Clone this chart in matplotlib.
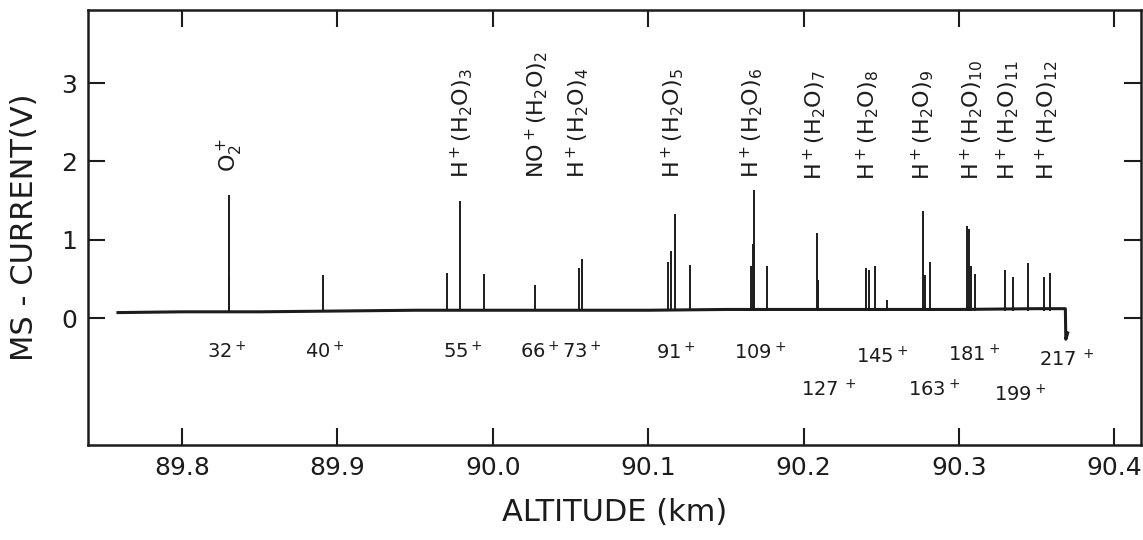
import matplotlib
matplotlib.use("Agg")
import matplotlib.pyplot as plt
import numpy as np

# Trazo de la línea base (altitud km, corriente V)
base_alt = [89.7588, 89.80, 89.85, 89.90, 89.95, 90.00, 90.05, 90.10,
            90.15, 90.20, 90.25, 90.30, 90.35, 90.3685, 90.3688, 90.3700]
base_v = [0.07, 0.08, 0.08, 0.09, 0.10, 0.10, 0.10, 0.10,
          0.11, 0.11, 0.11, 0.11, 0.12, 0.12, -0.27, -0.19]

# Picos del espectro de masas
pico_alt = [89.8302, 89.8305, 89.8907, 89.9704, 89.9788, 89.9942, 90.0270,
            90.0553, 90.0572, 90.1125, 90.1145, 90.1170, 90.1267,
            90.1659, 90.1672, 90.1678, 90.1768, 90.2084, 90.2090,
            90.2399, 90.2424, 90.2463, 90.2534, 90.2772, 90.2780, 90.2817,
            90.3055, 90.3068, 90.3080, 90.3106, 90.3299, 90.3350, 90.3447,
            90.3550, 90.3588]
pico_v = [1.57, 0.53, 0.55, 0.58, 1.49, 0.56, 0.42,
          0.64, 0.75, 0.72, 0.86, 1.33, 0.68,
          0.67, 0.94, 1.63, 0.66, 1.09, 0.48,
          0.64, 0.62, 0.67, 0.23, 1.37, 0.55, 0.72,
          1.18, 1.14, 0.67, 0.56, 0.62, 0.52, 0.70,
          0.52, 0.57]

# Etiquetas de iones (arriba, rotadas)
ion_txt = [r"O$_2^+$",
           r"H$^+$(H$_2$O)$_3$", r"NO$^+$(H$_2$O)$_2$", r"H$^+$(H$_2$O)$_4$",
           r"H$^+$(H$_2$O)$_5$", r"H$^+$(H$_2$O)$_6$", r"H$^+$(H$_2$O)$_7$",
           r"H$^+$(H$_2$O)$_8$", r"H$^+$(H$_2$O)$_9$", r"H$^+$(H$_2$O)$_{10}$",
           r"H$^+$(H$_2$O)$_{11}$", r"H$^+$(H$_2$O)$_{12}$"]
ion_alt = [89.8309, 89.9801, 90.0283, 90.0547, 90.1158, 90.1666, 90.2071,
           90.2412, 90.2765, 90.3080, 90.3312, 90.3563]
ion_v = [1.87, 1.79, 1.79, 1.79, 1.79, 1.79, 1.76, 1.76, 1.76, 1.76, 1.76, 1.76]

# Números de masa (abajo)
masa_txt = ["32$^+$", "40$^+$", "55$^+$", "66$^+$", "73$^+$", "91$^+$", "109$^+$",
            r"127$\,^+$", "145$^+$", "163$^+$", "181$^+$", "199$^+$", r"217$\,^+$"]
masa_alt = [89.8289, 89.8920, 89.9807, 90.0302, 90.0572, 90.1177, 90.1717,
            90.2161, 90.2502, 90.2842, 90.3100, 90.3395, 90.3691]
masa_v = [-0.43, -0.43, -0.43, -0.43, -0.43, -0.44, -0.44,
          -0.91, -0.50, -0.91, -0.47, -0.98, -0.53]

x_ticks = [89.8, 89.9, 90.0, 90.1, 90.2, 90.3, 90.4]
y_ticks = [0, 1, 2, 3]

plt.rcParams['font.family'] = ['DejaVu Sans']
plt.rcParams['mathtext.default'] = 'regular'
tinta = '#1c1c1c'

fig = plt.figure(figsize=(11.43, 5.4), dpi=100)
ax = fig.add_axes([0.077, 0.176, 0.921, 0.805])

# Línea base y picos
ax.plot(base_alt, base_v, color=tinta, linewidth=2.2)
ax.vlines(pico_alt, 0.09, pico_v, color=tinta, linewidth=1.4)

for t, x, y in zip(ion_txt, ion_alt, ion_v):
    ax.text(x, y, t, rotation=90, ha='center', va='bottom', fontsize=16, color=tinta)

for t, x, y in zip(masa_txt, masa_alt, masa_v):
    ax.text(x, y, t, ha='center', va='center', fontsize=14, color=tinta)

ax.set_xlim(89.7395, 90.417)
ax.set_ylim(-1.62, 3.93)
ax.set_xticks(x_ticks)
ax.set_xticklabels([f"{v:.1f}" for v in x_ticks])
ax.set_yticks(y_ticks)

ax.tick_params(direction='in', length=12, width=1.5, top=True, right=True,
               labelsize=18, pad=8, colors=tinta)
for s in ax.spines.values():
    s.set_linewidth(1.8)
    s.set_color(tinta)

ax.set_xlabel("ALTITUDE (km)", fontsize=22, labelpad=13, color=tinta)
ax.set_ylabel("MS - CURRENT(V)", fontsize=22, labelpad=16, color=tinta)

fig.savefig("out.png", dpi=100)
